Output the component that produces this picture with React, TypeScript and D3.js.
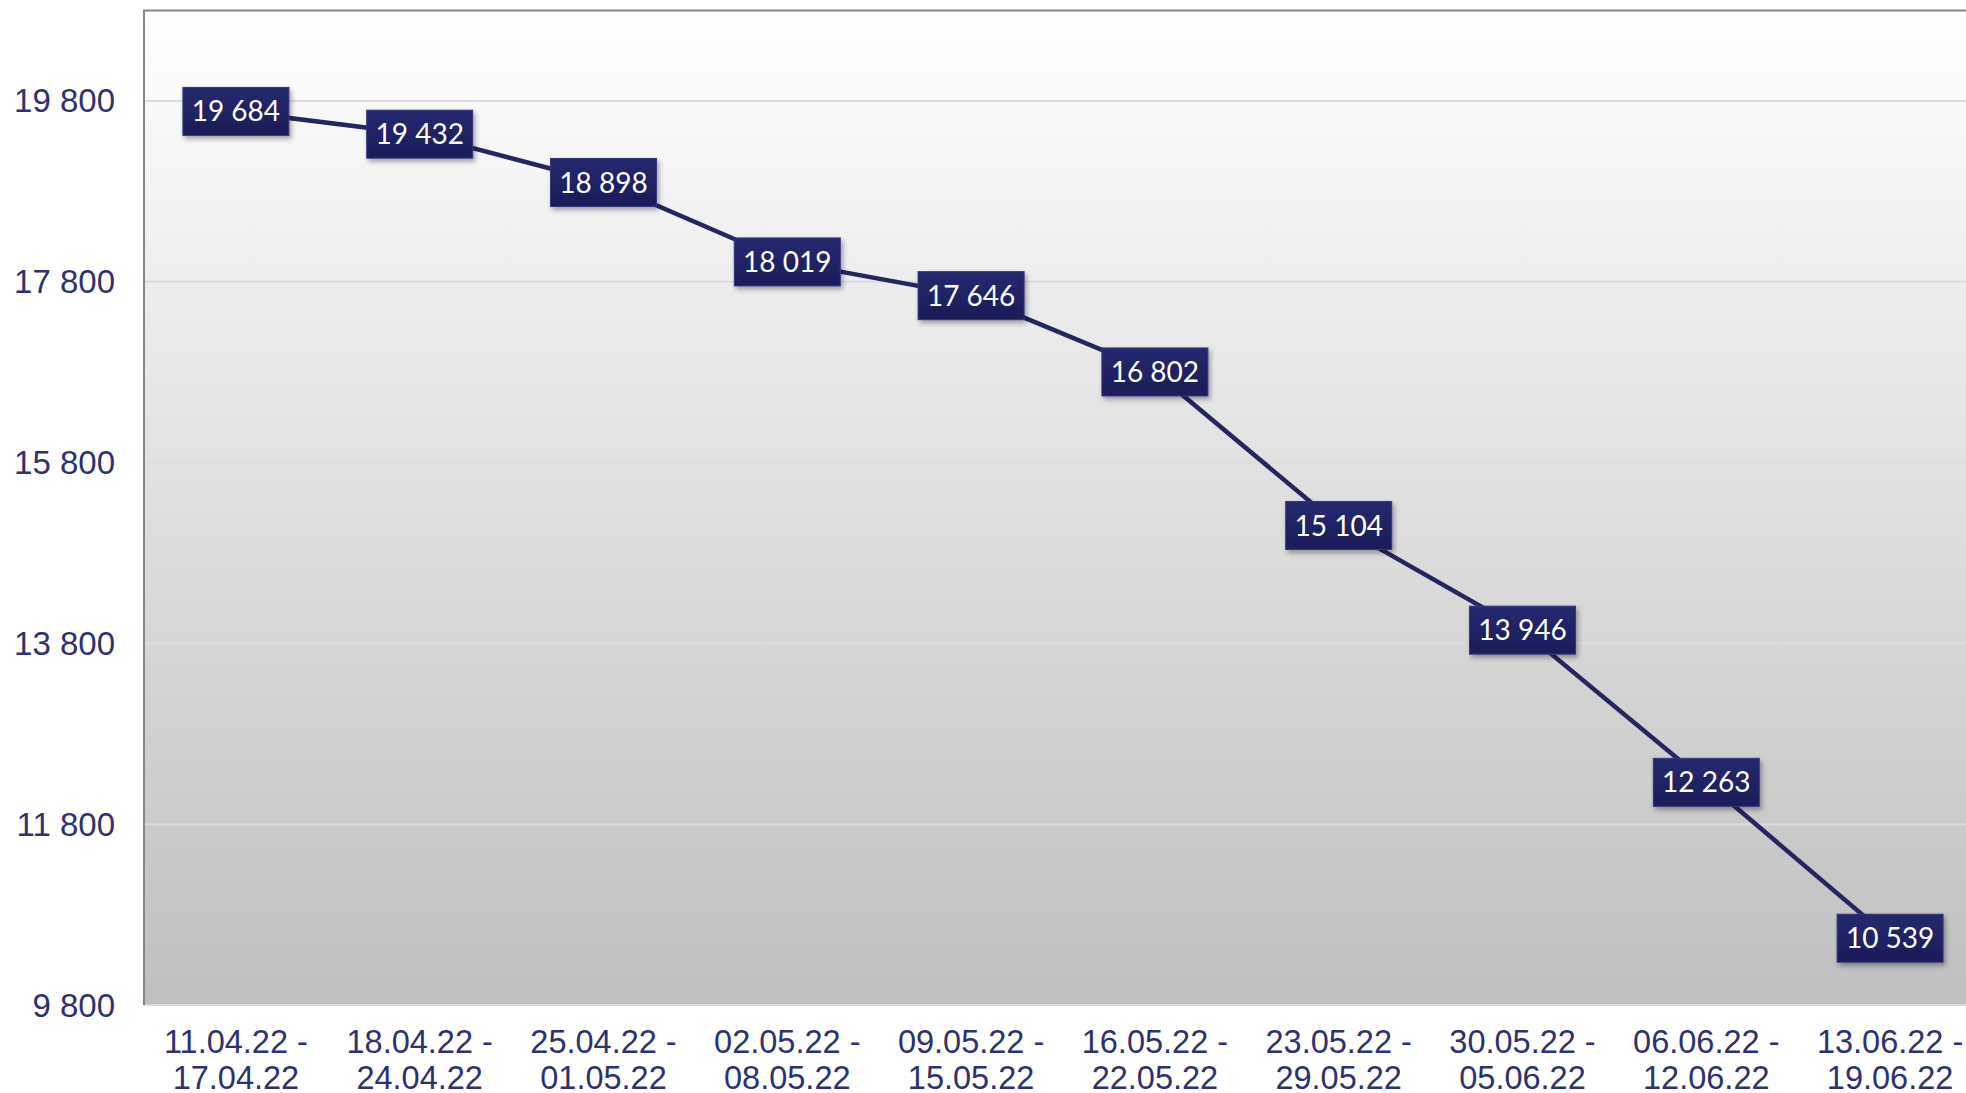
import { useEffect, useRef } from "react";
import * as d3 from "d3";

const width = 1966;
const height = 1093;
const margin = { top: 10.5, right: -16, bottom: 88, left: 144 };

const weekStarts = ["11.04.22", "18.04.22", "25.04.22", "02.05.22", "09.05.22", "16.05.22", "23.05.22", "30.05.22", "06.06.22", "13.06.22"];
const weekEnds = ["17.04.22", "24.04.22", "01.05.22", "08.05.22", "15.05.22", "22.05.22", "29.05.22", "05.06.22", "12.06.22", "19.06.22"];
const values = [19684, 19432, 18898, 18019, 17646, 16802, 15104, 13946, 12263, 10539];
const yTicks = [9800, 11800, 13800, 15800, 17800, 19800];

const textColor = "#2d3170";

const locale = d3.formatLocale({ decimal: ",", thousands: " ", grouping: [3], currency: ["", ""] });
const fmt = locale.format(",d");

const App = () => {
  const svgRef = useRef<SVGSVGElement>(null);

  useEffect(() => {
    document.body.style.margin = "0";
    const svg = d3.select(svgRef.current);
    svg.selectAll("*").remove();

    const xScale = d3
      .scalePoint<number>()
      .domain(d3.range(values.length))
      .range([margin.left, width - margin.right])
      .padding(0.5);
    const yScale = d3
      .scaleLinear()
      .domain([9800, 20800])
      .range([height - margin.bottom, margin.top]);

    const defs = svg.append("defs");
    const bg = defs
      .append("linearGradient")
      .attr("id", "bg")
      .attr("x1", 0)
      .attr("x2", 0)
      .attr("y1", 0)
      .attr("y2", 1);
    bg.append("stop").attr("offset", "0%").attr("stop-color", "#ffffff");
    bg.append("stop").attr("offset", "100%").attr("stop-color", "#bfbfbf");

    const boxGrad = defs
      .append("linearGradient")
      .attr("id", "box")
      .attr("x1", 0)
      .attr("x2", 0)
      .attr("y1", 0)
      .attr("y2", 1);
    boxGrad.append("stop").attr("offset", "0%").attr("stop-color", "#25296f");
    boxGrad.append("stop").attr("offset", "100%").attr("stop-color", "#1a1c58");

    const shadow = defs.append("filter").attr("id", "shadow").attr("x", "-20%").attr("y", "-20%").attr("width", "140%").attr("height", "160%");
    shadow
      .append("feDropShadow")
      .attr("dx", 2)
      .attr("dy", 3)
      .attr("stdDeviation", 2.5)
      .attr("flood-color", "#000")
      .attr("flood-opacity", 0.35);

    const plotBottom = height - margin.bottom;

    // plot background
    svg
      .append("rect")
      .attr("x", margin.left)
      .attr("y", margin.top)
      .attr("width", width - margin.left)
      .attr("height", plotBottom - margin.top)
      .attr("fill", "url(#bg)");

    // gridlines
    svg
      .append("g")
      .selectAll("line")
      .data(yTicks.slice(1))
      .join("line")
      .attr("x1", margin.left)
      .attr("x2", width)
      .attr("y1", (d) => yScale(d))
      .attr("y2", (d) => yScale(d))
      .attr("stroke", "#dcdcdc")
      .attr("stroke-width", 2);

    // bottom edge
    svg
      .append("line")
      .attr("x1", margin.left)
      .attr("x2", width)
      .attr("y1", plotBottom)
      .attr("y2", plotBottom)
      .attr("stroke", "#d9d9d9")
      .attr("stroke-width", 2);

    // left + top border
    svg
      .append("path")
      .attr("d", `M${margin.left},${plotBottom}V${margin.top}H${width}`)
      .attr("fill", "none")
      .attr("stroke", "#858585")
      .attr("stroke-width", 2);

    // y tick labels
    svg
      .append("g")
      .selectAll("text")
      .data(yTicks)
      .join("text")
      .attr("x", 115)
      .attr("y", (d) => yScale(d))
      .attr("dy", "0.35em")
      .attr("text-anchor", "end")
      .attr("font-family", "'Liberation Sans', Arial, sans-serif")
      .attr("font-size", 33)
      .attr("fill", textColor)
      .text((d) => fmt(d));

    // x tick labels
    const xl = svg
      .append("g")
      .selectAll("text")
      .data(d3.range(values.length))
      .join("text")
      .attr("text-anchor", "middle")
      .attr("font-family", "'Liberation Sans', Arial, sans-serif")
      .attr("font-size", 32.5)
      .attr("fill", textColor);
    xl.append("tspan")
      .attr("x", (i) => xScale(i)!)
      .attr("y", 1053)
      .text((i) => `${weekStarts[i]} -`);
    xl.append("tspan")
      .attr("x", (i) => xScale(i)!)
      .attr("y", 1089)
      .text((i) => weekEnds[i]);

    // line
    const line = d3
      .line<number>()
      .x((_, i) => xScale(i)!)
      .y((d) => yScale(d));
    svg
      .append("path")
      .datum(values)
      .attr("fill", "none")
      .attr("stroke", "#23265f")
      .attr("stroke-width", 4.5)
      .attr("d", line);

    // value boxes
    const boxW = 106;
    const boxH = 48;
    const labels = svg
      .append("g")
      .selectAll("g")
      .data(values)
      .join("g")
      .attr("transform", (d, i) => `translate(${xScale(i)},${yScale(d)})`);
    labels
      .append("rect")
      .attr("x", -boxW / 2)
      .attr("y", -boxH / 2)
      .attr("width", boxW)
      .attr("height", boxH)
      .attr("fill", "url(#box)")
      .attr("stroke", "#34387c")
      .attr("stroke-width", 1)
      .attr("filter", "url(#shadow)");
    labels
      .append("text")
      .attr("text-anchor", "middle")
      .attr("dy", "0.36em")
      .attr("font-family", "Lato, 'Open Sans', sans-serif")
      .attr("font-size", 28)
      .attr("fill", "#ffffff")
      .text((d) => fmt(d));
  }, []);

  return (
    <svg
      ref={svgRef}
      width={width}
      height={height}
      viewBox={`0 0 ${width} ${height}`}
      style={{ display: "block" }}
    ></svg>
  );
};

export default App;
